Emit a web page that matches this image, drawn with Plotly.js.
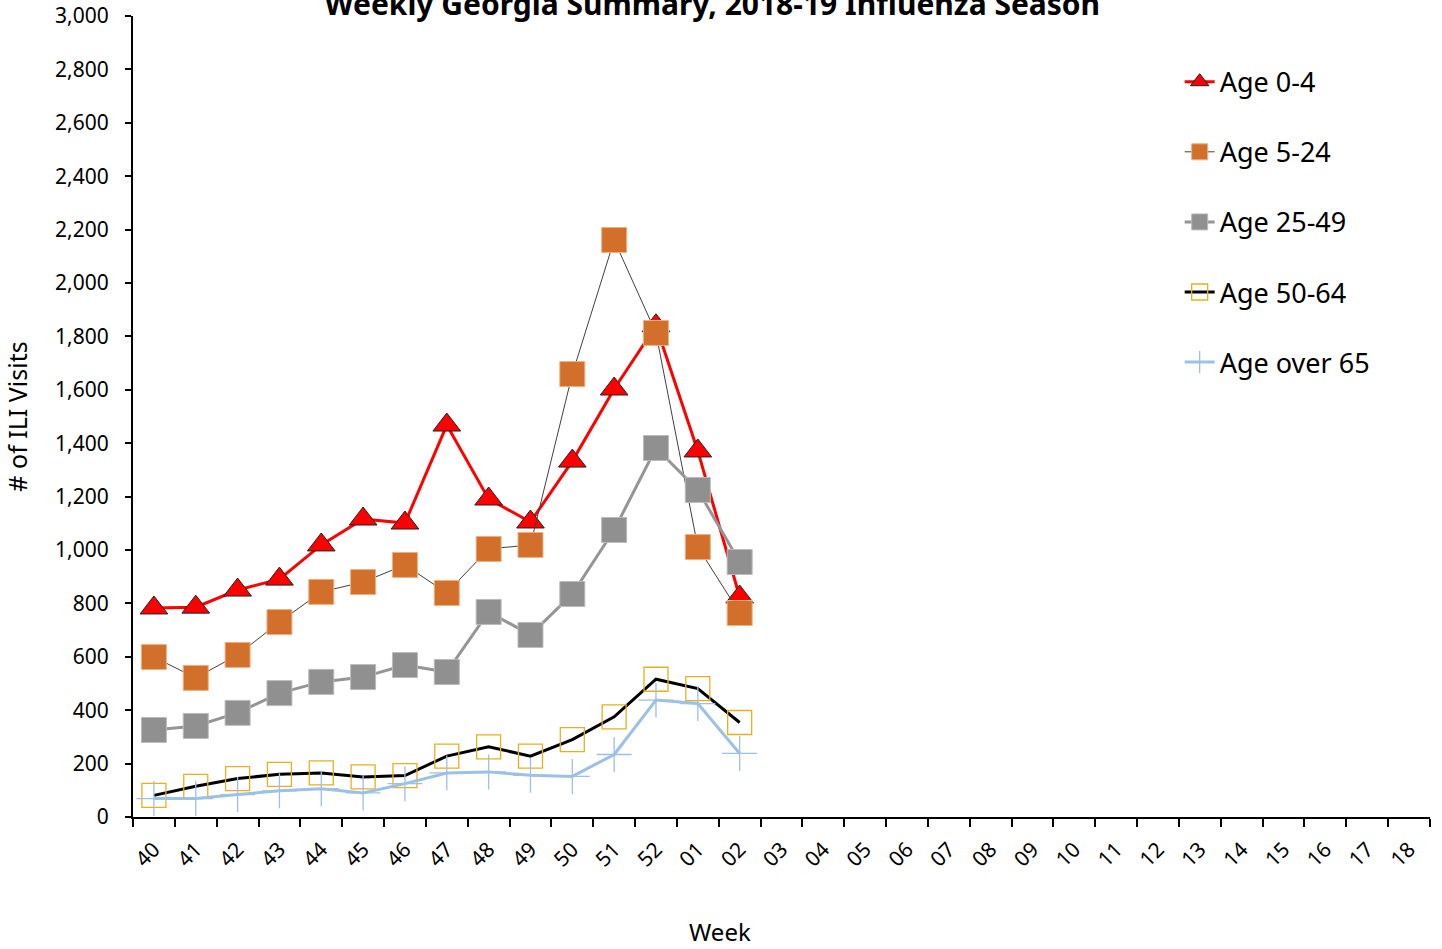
<!DOCTYPE html>
<html>
<head>
<meta charset="utf-8">
<script src="https://cdn.plot.ly/plotly-3.0.1.min.js"></script>
<style>html,body{margin:0;padding:0;background:#fff;}#chart{width:1442px;height:949px;}</style>
</head>
<body>
<div id="chart"></div>
<script>
const weeks = ["40","41","42","43","44","45","46","47","48","49","50","51","52","01","02","03","04","05","06","07","08","09","10","11","12","13","14","15","16","17","18"];
const dataWeeks = weeks.slice(0, 15);
const age0_4   = [783, 786, 850, 891, 1019, 1116, 1101, 1468, 1191, 1105, 1333, 1603, 1840, 1371, 824];
const age5_24  = [599, 521, 607, 730, 843, 880, 944, 839, 1004, 1019, 1659, 2161, 1813, 1011, 764];
const age25_49 = [326, 341, 390, 464, 506, 524, 569, 543, 768, 682, 835, 1075, 1382, 1225, 955];
const age50_64 = [81, 115, 144, 160, 165, 150, 155, 228, 263, 228, 290, 375, 516, 481, 354];
const age65    = [69, 69, 84, 98, 106, 90, 125, 165, 169, 156, 152, 234, 438, 425, 238];
const yTicks = [0,200,400,600,800,1000,1200,1400,1600,1800,2000,2200,2400,2600,2800,3000];

const FONT = "Noto Sans, DejaVu Sans, sans-serif";

const traces = [
  {name: "Age 0-4", x: dataWeeks, y: age0_4, type: "scatter", mode: "lines+markers", legendgroup: "a",
   line: {color: "#FF0000", width: 3},
   marker: {symbol: "triangle-up", size: 24, color: "#FF0000", line: {color: "#222222", width: 1}}},
  {name: "Age 5-24", x: dataWeeks, y: age5_24, type: "scatter", mode: "lines+markers", legendgroup: "b",
   line: {color: "#404040", width: 1},
   marker: {symbol: "square", size: 25, color: "#D2702B", line: {color: "#F0B080", width: 1}}},
  {name: "Age 25-49", x: dataWeeks, y: age25_49, type: "scatter", mode: "lines+markers", legendgroup: "c",
   line: {color: "#959595", width: 3},
   marker: {symbol: "square", size: 25, color: "#909090", line: {color: "#BBBBBB", width: 1}}},
  {name: "Age 50-64", x: dataWeeks, y: age50_64, type: "scatter", mode: "lines+markers", legendgroup: "d",
   line: {color: "#000000", width: 3},
   marker: {symbol: "square-open", size: 24, color: "#E6B020", line: {color: "#E6B020", width: 1.3}}},
  {name: "Age over 65", x: dataWeeks, y: age65, type: "scatter", mode: "lines+markers", legendgroup: "e",
   line: {color: "#9DC0E6", width: 3},
   marker: {symbol: "cross-thin-open", size: 25, color: "#9DC0E6", line: {color: "#9DC0E6", width: 1.3}}}
];

const layout = {
  width: 1442, height: 949,
  paper_bgcolor: "#ffffff", plot_bgcolor: "#ffffff",
  margin: {l: 133, r: 12, t: 16, b: 132},
  font: {family: FONT, color: "#000000"},
  title: {text: "<b>Weekly Georgia Summary, 2018-19 Influenza Season</b>", font: {family: FONT, size: 30, color: "#000"},
          x: 0.494, xanchor: "center", y: 0.995, yref: "container", yanchor: "middle"},
  showlegend: true,
  legend: {x: 0.807, xanchor: "left", y: 0.948, yanchor: "top", font: {family: FONT, size: 27, color: "#000"},
           tracegroupgap: 32, bgcolor: "rgba(0,0,0,0)"},
  xaxis: {type: "category", categoryorder: "array", categoryarray: weeks, range: [-0.5, 30.5],
          tickvals: weeks, ticktext: weeks, tickson: "boundaries",
          showline: true, linecolor: "#000", linewidth: 2, mirror: false,
          ticks: "outside", ticklen: 8, tickwidth: 2, tickcolor: "#000",
          tickangle: -45, ticklabelstandoff: 10, tickfont: {family: FONT, size: 21, color: "#000"},
          showgrid: false, zeroline: false, fixedrange: true},
  yaxis: {range: [0, 3000], tickvals: yTicks, tickformat: ",",
          showline: true, linecolor: "#000", linewidth: 2,
          ticks: "outside", ticklen: 6, tickwidth: 2, tickcolor: "#000",
          ticklabelstandoff: 12, tickfont: {family: FONT, size: 21, color: "#000"},
          title: {text: "# of ILI Visits", font: {family: FONT, size: 25, color: "#000"}, standoff: 22},
          showgrid: false, zeroline: false, fixedrange: true},
  annotations: [
    {text: "Week", xref: "paper", yref: "paper", x: (720 - 133) / 1297, y: -(932 - 817) / 801,
     xanchor: "center", yanchor: "middle", showarrow: false, font: {family: FONT, size: 24, color: "#000"}}
  ]
};

Plotly.newPlot("chart", traces, layout, {displayModeBar: false, staticPlot: true});
</script>
</body>
</html>
